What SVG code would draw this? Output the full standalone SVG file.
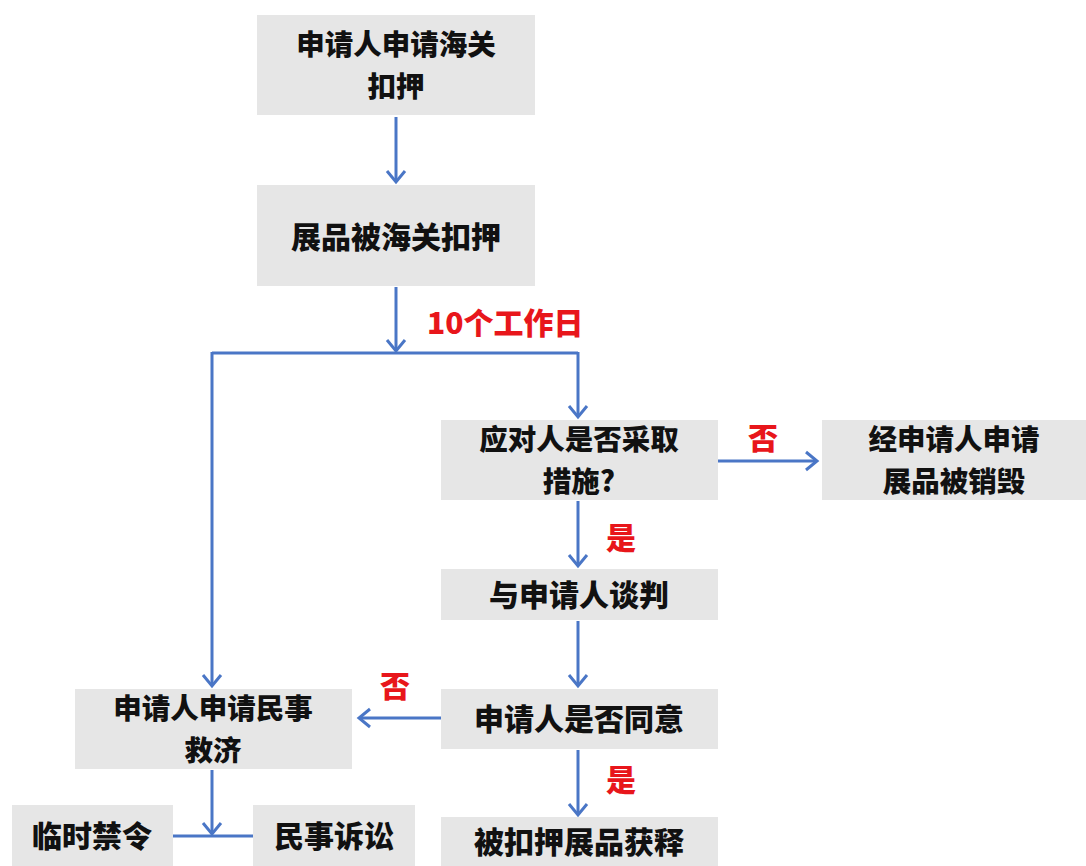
<svg xmlns="http://www.w3.org/2000/svg" width="1086" height="866" viewBox="0 0 1086 866">
<style>
.box{fill:#E6E6E6;}
.t{font-family:"Noto Sans CJK SC","Liberation Sans",sans-serif;font-weight:900;font-size:30px;fill:#111;text-anchor:middle;}
.t2{font-size:28.5px;}
.lbl{font-family:"Noto Sans CJK SC","Liberation Sans",sans-serif;font-weight:900;font-size:30px;fill:#E8161B;}
.c{fill:none;stroke:#4A76C6;stroke-width:3;}
</style>
<defs>
<marker id="ah" markerUnits="userSpaceOnUse" markerWidth="16" markerHeight="24" refX="13" refY="11" orient="auto">
<path d="M2,2 L13,11 L2,20" fill="none" stroke="#4A76C6" stroke-width="3"/>
</marker>
</defs>
<rect width="1086" height="866" fill="#fff"/>
<g id="connectors">
<line class="c" x1="396" y1="117" x2="396" y2="182" marker-end="url(#ah)"/>
<line class="c" x1="396" y1="287" x2="396" y2="351" marker-end="url(#ah)"/>
<polyline class="c" points="212,353 578,353"/>
<line class="c" x1="212" y1="352" x2="212" y2="686" marker-end="url(#ah)"/>
<line class="c" x1="578" y1="352" x2="578" y2="417" marker-end="url(#ah)"/>
<line class="c" x1="718" y1="461" x2="817" y2="461" marker-end="url(#ah)"/>
<line class="c" x1="578" y1="501" x2="578" y2="566" marker-end="url(#ah)"/>
<line class="c" x1="578" y1="621" x2="578" y2="686" marker-end="url(#ah)"/>
<line class="c" x1="441" y1="718" x2="359" y2="718" marker-end="url(#ah)"/>
<line class="c" x1="578" y1="750" x2="578" y2="815" marker-end="url(#ah)"/>
<line class="c" x1="212" y1="770" x2="212" y2="834" marker-end="url(#ah)"/>
<line class="c" x1="173" y1="836" x2="253" y2="836"/>
<text class="lbl" x="427" y="334">10个工作日</text>
<text class="lbl" x="763" y="449" text-anchor="middle">否</text>
<text class="lbl" x="621" y="549" text-anchor="middle">是</text>
<text class="lbl" x="395" y="697" text-anchor="middle">否</text>
<text class="lbl" x="621" y="791" text-anchor="middle">是</text>
</g>
<g id="n1"><rect class="box" x="257" y="15" width="278" height="100"/><text class="t t2"><tspan x="396" y="55">申请人申请海关</tspan><tspan x="396" y="97">扣押</tspan></text></g>
<g id="n2"><rect class="box" x="257" y="185" width="278" height="101"/><text class="t" x="396" y="248">展品被海关扣押</text></g>
<g id="n3"><rect class="box" x="441" y="420" width="277" height="80"/><text class="t t2"><tspan x="579" y="450">应对人是否采取</tspan><tspan x="579" y="492">措施?</tspan></text></g>
<g id="n4"><rect class="box" x="822" y="420" width="264" height="80"/><text class="t t2"><tspan x="954" y="450">经申请人申请</tspan><tspan x="954" y="492">展品被销毁</tspan></text></g>
<g id="n5"><rect class="box" x="441" y="569" width="277" height="51"/><text class="t" x="579" y="606">与申请人谈判</text></g>
<g id="n6"><rect class="box" x="441" y="689" width="277" height="60"/><text class="t" x="579" y="730">申请人是否同意</text></g>
<g id="n7"><rect class="box" x="75" y="689" width="277" height="80"/><text class="t t2"><tspan x="213" y="719">申请人申请民事</tspan><tspan x="213" y="761">救济</tspan></text></g>
<g id="n8"><rect class="box" x="12" y="805" width="161" height="61"/><text class="t" x="92" y="847">临时禁令</text></g>
<g id="n9"><rect class="box" x="253" y="805" width="162" height="61"/><text class="t" x="334" y="847">民事诉讼</text></g>
<g id="n10"><rect class="box" x="441" y="817" width="277" height="49"/><text class="t" x="579" y="853">被扣押展品获释</text></g>
</svg>
